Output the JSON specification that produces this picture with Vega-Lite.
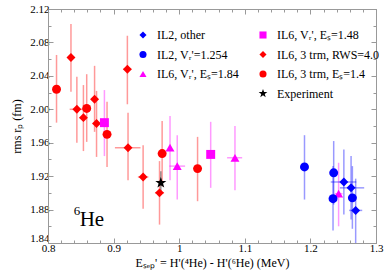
{
  "$schema": "https://vega.github.io/schema/vega-lite/v6.json",
  "width": 328,
  "height": 234,
  "autosize": {"type": "none"},
  "padding": {"left": 48, "top": 9, "right": 12, "bottom": 32},
  "config": {
    "font": "Liberation Serif",
    "view": {"stroke": "#999", "strokeWidth": 1},
    "axis": {"grid": false, "domainColor": "#999", "tickColor": "#999", "labelColor": "#000", "titleColor": "#000", "labelFont": "Liberation Serif", "titleFont": "Liberation Serif", "titleFontWeight": "normal"}
  },
  "data": {
    "values": [
      {"s": "IL6, 3 trm, RWS=4.0", "x": 0.835, "y": 2.062, "ylo": 2.021, "yhi": 2.102, "xlo": 0.831, "xhi": 0.840},
      {"s": "IL6, 3 trm, RWS=4.0", "x": 0.844, "y": 2.000, "ylo": 1.960, "yhi": 2.039, "xlo": 0.833, "xhi": 0.854},
      {"s": "IL6, 3 trm, RWS=4.0", "x": 0.854, "y": 1.990, "ylo": 1.950, "yhi": 2.029, "xlo": 0.850, "xhi": 0.858},
      {"s": "IL6, 3 trm, RWS=4.0", "x": 0.871, "y": 2.012, "ylo": 1.973, "yhi": 2.052, "xlo": 0.866, "xhi": 0.876},
      {"s": "IL6, 3 trm, RWS=4.0", "x": 0.874, "y": 1.983, "ylo": 1.943, "yhi": 2.022, "xlo": 0.868, "xhi": 0.880},
      {"s": "IL6, 3 trm, RWS=4.0", "x": 0.921, "y": 2.048, "ylo": 2.006, "yhi": 2.088, "xlo": 0.915, "xhi": 0.927},
      {"s": "IL6, 3 trm, RWS=4.0", "x": 0.922, "y": 1.954, "ylo": 1.915, "yhi": 1.996, "xlo": 0.902, "xhi": 0.941},
      {"s": "IL6, 3 trm, RWS=4.0", "x": 0.945, "y": 1.919, "ylo": 1.881, "yhi": 1.957, "xlo": 0.937, "xhi": 0.953},
      {"s": "IL6, 3 trm, RWS=4.0", "x": 0.970, "y": 1.900, "ylo": 1.862, "yhi": 1.938, "xlo": 0.963, "xhi": 0.977},
      {"s": "IL6, 3 trm, Eₛ=1.4", "x": 0.813, "y": 2.024, "ylo": 1.984, "yhi": 2.065, "xlo": 0.813, "xhi": 0.813},
      {"s": "IL6, 3 trm, Eₛ=1.4", "x": 0.859, "y": 2.001, "ylo": 1.961, "yhi": 2.042, "xlo": 0.859, "xhi": 0.859},
      {"s": "IL6, 3 trm, Eₛ=1.4", "x": 0.890, "y": 1.970, "ylo": 1.931, "yhi": 2.009, "xlo": 0.890, "xhi": 0.890},
      {"s": "IL6, 3 trm, Eₛ=1.4", "x": 0.974, "y": 1.947, "ylo": 1.908, "yhi": 1.986, "xlo": 0.974, "xhi": 0.974},
      {"s": "IL6, 3 trm, Eₛ=1.4", "x": 1.028, "y": 1.929, "ylo": 1.890, "yhi": 1.967, "xlo": 1.028, "xhi": 1.028},
      {"s": "IL6, Vᵣ', Eₛ=1.48", "x": 0.886, "y": 1.984, "ylo": 1.944, "yhi": 2.023, "xlo": 0.886, "xhi": 0.886},
      {"s": "IL6, Vᵣ', Eₛ=1.48", "x": 1.048, "y": 1.946, "ylo": 1.906, "yhi": 1.985, "xlo": 1.048, "xhi": 1.048},
      {"s": "IL6, Vᵣ', Eₛ=1.84", "x": 0.986, "y": 1.954, "ylo": 1.915, "yhi": 1.992, "xlo": 0.986, "xhi": 0.986},
      {"s": "IL6, Vᵣ', Eₛ=1.84", "x": 0.997, "y": 1.932, "ylo": 1.892, "yhi": 1.969, "xlo": 0.985, "xhi": 1.009},
      {"s": "IL6, Vᵣ', Eₛ=1.84", "x": 1.085, "y": 1.942, "ylo": 1.903, "yhi": 1.980, "xlo": 1.073, "xhi": 1.096},
      {"s": "IL6, Vᵣ', Eₛ=1.84", "x": 1.243, "y": 1.899, "ylo": 1.860, "yhi": 1.936, "xlo": 1.237, "xhi": 1.249},
      {"s": "IL2, Vᵣ'=1.254", "x": 1.191, "y": 1.931, "ylo": 1.892, "yhi": 1.969, "xlo": 1.185, "xhi": 1.197},
      {"s": "IL2, Vᵣ'=1.254", "x": 1.2355, "y": 1.924, "ylo": 1.886, "yhi": 1.962, "xlo": 1.2355, "xhi": 1.2355},
      {"s": "IL2, Vᵣ'=1.254", "x": 1.2345, "y": 1.893, "ylo": 1.855, "yhi": 1.932, "xlo": 1.2345, "xhi": 1.2345},
      {"s": "IL2, Vᵣ'=1.254", "x": 1.264, "y": 1.894, "ylo": 1.857, "yhi": 1.932, "xlo": 1.259, "xhi": 1.269},
      {"s": "IL2, other", "x": 1.251, "y": 1.913, "ylo": 1.874, "yhi": 1.952, "xlo": 1.231, "xhi": 1.270},
      {"s": "IL2, other", "x": 1.262, "y": 1.906, "ylo": 1.868, "yhi": 1.944, "xlo": 1.245, "xhi": 1.282},
      {"s": "IL2, other", "x": 1.269, "y": 1.879, "ylo": 1.840, "yhi": 1.917, "xlo": 1.259, "xhi": 1.279},
      {"s": "Experiment", "x": 0.972, "y": 1.912, "ylo": 1.898, "yhi": 1.926, "xlo": 0.972, "xhi": 0.972}
    ]
  },
  "resolve": {"axis": {"x": "independent", "y": "independent"}},
  "layer": [
    {
      "mark": {"type": "rule", "strokeWidth": 1.5, "opacity": 0.4, "clip": true},
      "encoding": {
        "x": {"field": "x", "type": "quantitative", "scale": {"domain": [0.8, 1.3], "nice": false, "zero": false},
          "axis": {"orient": "bottom", "values": [0.8,0.82,0.84,0.86,0.88,0.9,0.92,0.94,0.96,0.98,1.0,1.02,1.04,1.06,1.08,1.1,1.12,1.14,1.16,1.18,1.2,1.22,1.24,1.26,1.28,1.3],
            "labelExpr": "round(datum.value*100)%10===0 ? format(datum.value,'.1~f') : ''",
            "tickSize": {"condition": {"test": "round(datum.value*100)%10===0", "value": -5}, "value": -3},
            "labelFlush": false, "labelOverlap": false, "labelFontSize": 11, "labelPadding": 4,
            "title": "Eₛₑₚ' = H'(⁴He) - H'(⁶He)  (MeV)", "titleFontSize": 12, "titlePadding": 2}},
        "y": {"field": "ylo", "type": "quantitative", "scale": {"domain": [1.84, 2.12], "nice": false, "zero": false},
          "axis": {"orient": "left", "values": [1.84,1.86,1.88,1.9,1.92,1.94,1.96,1.98,2.0,2.02,2.04,2.06,2.08,2.1,2.12],
            "labelExpr": "round(datum.value*100)%4===0 ? format(datum.value,'.2f') : ''",
            "tickSize": {"condition": {"test": "round(datum.value*100)%4===0", "value": -5}, "value": -3},
            "labelOffset": {"condition": {"test": "round(datum.value*100)===184", "value": -5}, "value": 0},
            "labelOverlap": false, "labelFontSize": 11, "labelPadding": 4,
            "title": "rms rₚ (fm)", "titleFontSize": 12, "titlePadding": 6}},
        "y2": {"field": "yhi"},
        "stroke": {"field": "s", "type": "nominal", "legend": null,
          "scale": {"domain": ["IL2, other", "IL2, Vᵣ'=1.254", "IL6, Vᵣ', Eₛ=1.84", "IL6, Vᵣ', Eₛ=1.48", "IL6, 3 trm, RWS=4.0", "IL6, 3 trm, Eₛ=1.4", "Experiment"],
            "range": ["#0000ff", "#0000ff", "#ff00ff", "#ff00ff", "#ff0000", "#ff0000", "#000000"]}}
      }
    },
    {
      "mark": {"type": "rule", "strokeWidth": 1.5, "opacity": 0.4, "clip": true},
      "encoding": {
        "x": {"field": "xlo", "type": "quantitative",
          "axis": {"orient": "top", "values": [0.8,0.82,0.84,0.86,0.88,0.9,0.92,0.94,0.96,0.98,1.0,1.02,1.04,1.06,1.08,1.1,1.12,1.14,1.16,1.18,1.2,1.22,1.24,1.26,1.28,1.3],
            "labels": false, "title": null,
            "tickSize": {"condition": {"test": "round(datum.value*100)%10===0", "value": -5}, "value": -3}}},
        "x2": {"field": "xhi"},
        "y": {"field": "y", "type": "quantitative",
          "axis": {"orient": "right", "values": [1.84,1.86,1.88,1.9,1.92,1.94,1.96,1.98,2.0,2.02,2.04,2.06,2.08,2.1,2.12],
            "labels": false, "title": null,
            "tickSize": {"condition": {"test": "round(datum.value*100)%4===0", "value": -5}, "value": -3}}},
        "stroke": {"field": "s", "type": "nominal", "legend": null}
      }
    },
    {
      "mark": {"type": "point", "filled": true, "opacity": 1, "size": 80, "strokeWidth": 0},
      "encoding": {
        "x": {"field": "x", "type": "quantitative", "axis": null},
        "y": {"field": "y", "type": "quantitative", "axis": null},
        "color": {"field": "s", "type": "nominal",
          "scale": {"domain": ["IL2, other", "IL2, Vᵣ'=1.254", "IL6, Vᵣ', Eₛ=1.84", " ", "IL6, Vᵣ', Eₛ=1.48", "IL6, 3 trm, RWS=4.0", "IL6, 3 trm, Eₛ=1.4", "Experiment"],
            "range": ["#0000ff", "#0000ff", "#ff00ff", "#ffffff", "#ff00ff", "#ff0000", "#ff0000", "#000000"]},
          "legend": {"orient": "none", "legendX": 89, "legendY": 20, "columns": 2, "title": null,
            "labelFont": "Liberation Serif", "labelFontSize": 12, "symbolSize": 50, "labelOffset": 8,
            "rowPadding": 7.5, "columnPadding": 17, "padding": 0,
            "encode": {"labels": {"update": {"fill": {"signal": "scale('color', datum.value)"}}}}}},
        "shape": {"field": "s", "type": "nominal",
          "scale": {"domain": ["IL2, other", "IL2, Vᵣ'=1.254", "IL6, Vᵣ', Eₛ=1.84", " ", "IL6, Vᵣ', Eₛ=1.48", "IL6, 3 trm, RWS=4.0", "IL6, 3 trm, Eₛ=1.4", "Experiment"],
            "range": ["diamond", "circle", "triangle-up", "circle", "square", "diamond", "circle", "M0,-1.3L0.306,-0.421L1.236,-0.402L0.495,0.161L0.764,1.052L0,0.52L-0.764,1.052L-0.495,0.161L-1.236,-0.402L-0.306,-0.421Z"]}}
      }
    },
    {
      "data": {"values": [{"x": 0.8391, "y": 1.8732, "t": "6"}]},
      "mark": {"type": "text", "font": "Liberation Serif", "fontSize": 13, "align": "left", "baseline": "alphabetic", "color": "#000"},
      "encoding": {"x": {"field": "x", "type": "quantitative", "axis": null}, "y": {"field": "y", "type": "quantitative", "axis": null}, "text": {"field": "t"}}
    },
    {
      "data": {"values": [{"x": 0.8483, "y": 1.8608, "t": "He"}]},
      "mark": {"type": "text", "font": "Liberation Serif", "fontSize": 21, "align": "left", "baseline": "alphabetic", "color": "#000"},
      "encoding": {"x": {"field": "x", "type": "quantitative", "axis": null}, "y": {"field": "y", "type": "quantitative", "axis": null}, "text": {"field": "t"}}
    }
  ]
}
